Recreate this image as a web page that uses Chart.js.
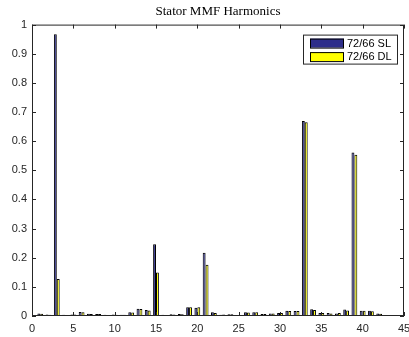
<!DOCTYPE html>
<html>
<head>
<meta charset="utf-8">
<script src="https://cdn.jsdelivr.net/npm/chart.js@4"></script>
<style>
  html, body { margin: 0; padding: 0; background: #fff; }
  #wrap { width: 409px; height: 337px; }
</style>
</head>
<body>
<div id="wrap"><canvas id="chart" width="409" height="337"></canvas></div>
<script>
// harmonic orders
const harmonics = [1, 2, 3, 4, 5, 6, 7, 8, 9, 10, 11, 12, 13, 14, 15, 16, 17, 18, 19, 20, 21,
                   22, 23, 24, 25, 26, 27, 28, 29, 30, 31, 32, 33, 34, 35, 36, 37, 38, 39, 40, 41, 42];

// 72/66 single layer
const slValues = [0.009, 0.005, 0.967, 0.004, 0.005, 0.014, 0.008, 0.007, 0.004, 0.005, 0.004, 0.013,
                  0.025, 0.021, 0.246, 0.004, 0.006, 0.007, 0.030, 0.028, 0.217, 0.013, 0.004, 0.006,
                  0.003, 0.013, 0.013, 0.007, 0.009, 0.010, 0.018, 0.017, 0.669, 0.023, 0.010, 0.010,
                  0.009, 0.022, 0.561, 0.018, 0.018, 0.009];

// 72/66 double layer
const dlValues = [0.008, 0.004, 0.127, 0.003, 0.005, 0.013, 0.007, 0.007, 0.003, 0.004, 0.004, 0.012,
                  0.024, 0.019, 0.149, 0.003, 0.005, 0.006, 0.030, 0.030, 0.176, 0.010, 0.005, 0.006,
                  0.003, 0.012, 0.013, 0.007, 0.009, 0.010, 0.017, 0.017, 0.665, 0.021, 0.010, 0.009,
                  0.010, 0.019, 0.553, 0.018, 0.016, 0.008];

const seriesLabels = ['72/66 SL', '72/66 DL'];
const seriesColors = ['#2e2e8a', '#ffff00'];

const axisColor = '#262626';

// 四边框 + 向内刻度 (MATLAB 风格)
const boxPlugin = {
    id: 'boxTicks',
    afterDatasetsDraw(chart) {
        const { ctx, chartArea: a, scales } = chart;
        const len = 4;
        ctx.save();
        ctx.strokeStyle = axisColor;
        ctx.lineWidth = 1;
        ctx.strokeRect(a.left + 0.5, a.top + 0.5, a.right - a.left - 1, a.bottom - a.top - 1);
        ctx.beginPath();
        scales.x.ticks.forEach(t => {
            const px = Math.round(scales.x.getPixelForValue(t.value)) + 0.5;
            ctx.moveTo(px, a.bottom); ctx.lineTo(px, a.bottom - len);
            ctx.moveTo(px, a.top); ctx.lineTo(px, a.top + len);
        });
        scales.y.ticks.forEach(t => {
            const py = Math.round(scales.y.getPixelForValue(t.value)) + 0.5;
            ctx.moveTo(a.left, py); ctx.lineTo(a.left + len, py);
            ctx.moveTo(a.right, py); ctx.lineTo(a.right - len, py);
        });
        ctx.stroke();
        ctx.restore();
    }
};

// 图内图例 (右上角)
const legendPlugin = {
    id: 'innerLegend',
    afterDraw(chart) {
        const { ctx, chartArea: a } = chart;
        const x0 = a.right - 101, y0 = a.top + 10;
        const w = 95, h = 30;
        ctx.save();
        ctx.fillStyle = '#fff';
        ctx.fillRect(x0, y0, w, h);
        ctx.strokeStyle = axisColor;
        ctx.lineWidth = 1;
        ctx.strokeRect(x0 + 0.5, y0 + 0.5, w - 1, h - 1);
        ctx.font = '11px "Liberation Sans", Arial, sans-serif';
        ctx.textBaseline = 'middle';
        chart.data.datasets.forEach((ds, i) => {
            const cy = y0 + 8.5 + i * 13.5;
            ctx.fillStyle = ds.backgroundColor;
            ctx.fillRect(x0 + 7, cy - 4.5, 34, 9);
            ctx.strokeStyle = '#000';
            ctx.strokeRect(x0 + 7.5, cy - 4, 33, 9);
            ctx.fillStyle = '#000';
            ctx.fillText(ds.label, x0 + 44, cy + 0.5);
        });
        ctx.restore();
    }
};

const makeData = (vals) => harmonics.map((h, i) => ({ x: h, y: vals[i] }));

new Chart(document.getElementById('chart'), {
    type: 'bar',
    data: {
        datasets: [
            {
                label: seriesLabels[0],
                data: makeData(slValues),
                backgroundColor: seriesColors[0],
                borderColor: '#000',
                borderWidth: 1,
                borderSkipped: false,
                categoryPercentage: 0.7,
                barPercentage: 1
            },
            {
                label: seriesLabels[1],
                data: makeData(dlValues),
                backgroundColor: seriesColors[1],
                borderColor: '#000',
                borderWidth: 1,
                borderSkipped: false,
                categoryPercentage: 0.7,
                barPercentage: 1
            }
        ]
    },
    options: {
        responsive: false,
        animation: false,
        layout: { padding: { left: 0, right: 5, top: 0, bottom: 0 } },
        plugins: {
            legend: { display: false },
            tooltip: { enabled: false },
            title: {
                display: true,
                text: 'Stator MMF Harmonics',
                fullSize: false,
                color: '#000',
                font: { family: '"Liberation Serif", "Times New Roman", serif', size: 13, weight: 'normal' },
                padding: { top: 4, bottom: 5 }
            }
        },
        scales: {
            x: {
                type: 'linear',
                min: 0,
                max: 45,
                offset: false,
                grid: { display: false, drawTicks: false },
                border: { display: false },
                ticks: {
                    stepSize: 5,
                    padding: 6,
                    color: axisColor,
                    maxRotation: 0,
                    font: { family: '"Liberation Sans", Arial, sans-serif', size: 11 }
                },
                afterFit(scale) {
                    scale.height = 21;
                    scale.paddingLeft = 0;
                    scale.paddingRight = 0;
                }
            },
            y: {
                min: 0,
                max: 1,
                grid: { display: false, drawTicks: false },
                border: { display: false },
                ticks: {
                    stepSize: 0.1,
                    padding: 5,
                    color: axisColor,
                    font: { family: '"Liberation Sans", Arial, sans-serif', size: 11 },
                    callback: (v) => String(Number(v.toFixed(2)))
                },
                afterFit(scale) {
                    scale.width = 32;
                }
            }
        }
    },
    plugins: [boxPlugin, legendPlugin]
});
</script>
</body>
</html>
